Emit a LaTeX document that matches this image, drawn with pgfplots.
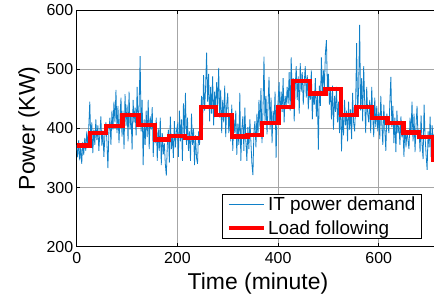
\documentclass[border=0pt]{standalone}
\usepackage{fontspec}
\setmainfont{Liberation Sans}
\usepackage{pgfplots}
\pgfplotsset{compat=1.18}
\definecolor{itblue}{RGB}{16,128,200}
\begin{document}
\begin{tikzpicture}
\begin{axis}[
  at={(0,0)}, anchor=south west,
  scale only axis, width=362.5bp, height=236.7bp,
  xmin=0, xmax=720, ymin=200, ymax=600,
  xtick={0,200,400,600}, ytick={200,300,400,500,600},
  grid=major, grid style={black!35, line width=0.7bp},
  axis line style={line width=0.7bp}, tick style={black, line width=0.6bp},
  tick align=inside, major tick length=3.5bp,
  tick label style={font=\fontsize{16}{18}\selectfont},
  xticklabel style={yshift=-2bp},
  /pgf/number format/assume math mode=true,
  xlabel={Time (minute)}, ylabel={Power (KW)},
  label style={font=\fontsize{23}{26}\selectfont},
  xlabel style={yshift=-3bp},
  legend style={at={(0.952,0.0325)}, anchor=south east, draw=black, line width=0.7bp,
    font=\fontsize{19}{22}\selectfont, inner xsep=4bp, inner ysep=1bp, row sep=4bp,
    cells={anchor=west}, nodes={inner sep=2bp}},
  legend image code/.code={\draw[#1] (0bp,0bp) -- (35bp,0bp);},
]
\addplot[itblue, line width=0.8bp, mark=none] table[row sep=\\] {x y\\
0 372\\ 2 351\\ 4 380\\ 6 346\\ 8 368\\ 10 340\\ 12 377\\ 14 355\\ 16 384\\ 18 362\\
20 395\\ 22 368\\ 24 402\\ 26 445\\ 28 376\\ 30 410\\ 32 358\\ 34 398\\ 36 372\\ 38 415\\
40 380\\ 42 405\\ 44 362\\ 46 392\\ 48 420\\ 50 371\\ 52 396\\ 54 352\\ 56 388\\ 58 410\\
60 378\\ 62 333\\ 64 395\\ 66 418\\ 68 372\\ 70 430\\ 72 398\\ 74 445\\ 76 410\\ 78 465\\
80 392\\ 82 438\\ 84 375\\ 86 420\\ 88 452\\ 90 386\\ 92 430\\ 94 365\\ 96 458\\ 98 404\\
100 440\\ 102 378\\ 104 462\\ 106 398\\ 108 425\\ 110 364\\ 112 448\\ 114 410\\ 116 435\\ 118 388\\
120 470\\ 122 402\\ 124 438\\ 126 522\\ 128 395\\ 130 448\\ 132 338\\ 134 415\\ 136 372\\ 138 430\\
140 385\\ 142 448\\ 144 365\\ 146 420\\ 148 398\\ 150 436\\ 152 352\\ 154 405\\ 156 375\\ 158 418\\
160 345\\ 162 400\\ 164 362\\ 166 418\\ 168 338\\ 170 392\\ 172 356\\ 174 375\\ 176 340\\ 178 320\\
180 372\\ 182 398\\ 184 342\\ 186 420\\ 188 365\\ 190 388\\ 192 350\\ 194 412\\ 196 368\\ 198 395\\
200 405\\ 202 352\\ 204 430\\ 206 378\\ 208 415\\ 210 345\\ 212 442\\ 214 390\\ 216 460\\ 218 372\\
220 418\\ 222 362\\ 224 395\\ 226 345\\ 228 425\\ 230 372\\ 232 400\\ 234 338\\ 236 388\\ 238 350\\
240 340\\ 242 395\\ 244 372\\ 246 418\\ 248 455\\ 250 402\\ 252 490\\ 254 430\\ 256 468\\ 258 528\\
260 445\\ 262 492\\ 264 412\\ 266 470\\ 268 425\\ 270 488\\ 272 405\\ 274 462\\ 276 430\\ 278 478\\
280 438\\ 282 502\\ 284 418\\ 286 465\\ 288 392\\ 290 448\\ 292 410\\ 294 472\\ 296 385\\ 298 440\\
300 460\\ 302 392\\ 304 425\\ 306 378\\ 308 440\\ 310 362\\ 312 415\\ 314 392\\ 316 430\\ 318 355\\
320 408\\ 322 372\\ 324 460\\ 326 345\\ 328 398\\ 330 420\\ 332 362\\ 334 435\\ 336 378\\ 338 345\\
340 402\\ 342 365\\ 344 415\\ 346 378\\ 348 340\\ 350 321\\ 352 395\\ 354 412\\ 356 368\\ 358 425\\
360 385\\ 362 448\\ 364 402\\ 366 468\\ 368 375\\ 370 430\\ 372 521\\ 374 410\\ 376 455\\ 378 390\\
380 438\\ 382 487\\ 384 398\\ 386 452\\ 388 375\\ 390 430\\ 392 408\\ 394 462\\ 396 350\\ 398 425\\
400 445\\ 402 478\\ 404 415\\ 406 462\\ 408 428\\ 410 485\\ 412 410\\ 414 455\\ 416 438\\ 418 470\\
420 442\\ 422 495\\ 424 430\\ 426 520\\ 428 458\\ 430 485\\ 432 412\\ 434 470\\ 436 505\\ 438 448\\
440 488\\ 442 425\\ 444 510\\ 446 462\\ 448 495\\ 450 440\\ 452 478\\ 454 505\\ 456 452\\ 458 490\\
460 432\\ 462 470\\ 464 448\\ 466 498\\ 468 415\\ 470 462\\ 472 440\\ 474 485\\ 476 420\\ 478 455\\
480 364\\ 482 472\\ 484 438\\ 486 520\\ 488 455\\ 490 498\\ 492 470\\ 494 528\\ 496 549\\ 498 465\\
500 492\\ 502 440\\ 504 468\\ 506 415\\ 508 472\\ 510 398\\ 512 455\\ 514 428\\ 516 470\\ 518 410\\
520 445\\ 522 392\\ 524 460\\ 526 361\\ 528 425\\ 530 388\\ 532 448\\ 534 405\\ 536 430\\ 538 378\\
540 445\\ 542 398\\ 544 432\\ 546 382\\ 548 460\\ 550 410\\ 552 395\\ 554 438\\ 556 544\\ 558 420\\
560 468\\ 562 575\\ 564 430\\ 566 485\\ 568 412\\ 570 505\\ 572 445\\ 574 392\\ 576 470\\ 578 425\\
580 410\\ 582 448\\ 584 392\\ 586 470\\ 588 420\\ 590 385\\ 592 452\\ 594 402\\ 596 438\\ 598 395\\
600 428\\ 602 382\\ 604 455\\ 606 408\\ 608 372\\ 610 440\\ 612 398\\ 614 362\\ 616 425\\ 618 410\\
620 392\\ 622 445\\ 624 487\\ 626 402\\ 628 438\\ 630 375\\ 632 418\\ 634 360\\ 636 430\\ 638 392\\
640 408\\ 642 372\\ 644 420\\ 646 385\\ 648 398\\ 650 352\\ 652 412\\ 654 368\\ 656 395\\ 658 380\\
660 365\\ 662 418\\ 664 390\\ 666 445\\ 668 378\\ 670 425\\ 672 360\\ 674 405\\ 676 438\\ 678 382\\
680 398\\ 682 360\\ 684 422\\ 686 372\\ 688 348\\ 690 440\\ 692 385\\ 694 355\\ 696 330\\ 698 395\\
700 368\\ 702 420\\ 704 352\\ 706 405\\ 708 378\\ 710 390\\
};
\addplot[red, line width=4.3bp, const plot, mark=none] coordinates {
(0,371) (26.5,392) (58,404) (91,423) (122.5,406) (155.6,381) (184,387.5) (215,383.6)
(247,436) (276,423) (309,386) (339,389) (368,409) (401,436) (430,480) (463,459)
(494,466) (525,423) (556,436) (587,417) (617.5,409) (649,393) (680,385) (708,347) (712,347)
};
\legend{IT power demand, Load following}
\end{axis}
\pgfresetboundingbox
\useasboundingbox (-76.7bp,-47.3bp) rectangle (357.3bp,246.7bp);
\end{tikzpicture}
\end{document}
